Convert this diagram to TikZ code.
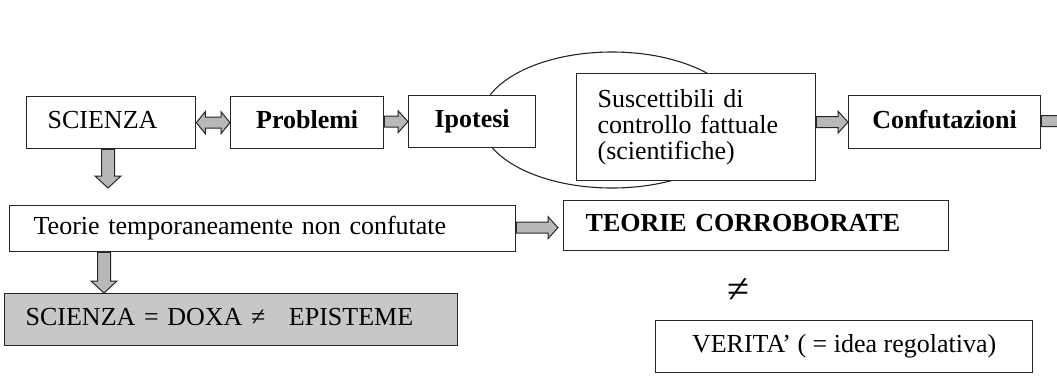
\documentclass[tikz,border=0pt]{standalone}
\usepackage{fontspec}
\setmainfont{Liberation Serif}
\usetikzlibrary{calc}
\newcommand\fs{\fontsize{26}{26}\selectfont}
\tikzset{
  box/.style={draw=black!85, line width=1.3pt, fill=white, inner ysep=0pt, anchor=north west, font=\fs},
  one/.style={text height=18pt, text depth=6pt},
  lbox/.style={box, align=left},
  cbox/.style={box, align=center, inner xsep=0pt},
  barrow/.style={draw=black!85, fill=black!28, line width=1pt, line join=miter},
  oval/.style={draw=black!85, line width=1.1pt}
}
% horizontal block arrow from x of #1 to point #2 (at y of #2)
\newcommand\barrowR[2]{\draw[barrow] let \p1=(#1), \p2=(#2) in
  (\x1,\y2+5.5pt) -- (\x2-10pt,\y2+5.5pt) -- (\x2-10pt,\y2+11pt) -- (\x2,\y2)
  -- (\x2-10pt,\y2-11pt) -- (\x2-10pt,\y2-5.5pt) -- (\x1,\y2-5.5pt) -- cycle;}
% double-headed horizontal block arrow
\newcommand\barrowLR[2]{\draw[barrow] let \p1=(#1), \p2=(#2) in
  (\x1,\y2) -- (\x1+9pt,\y2+11pt) -- (\x1+9pt,\y2+5.5pt) -- (\x2-9pt,\y2+5.5pt)
  -- (\x2-9pt,\y2+11pt) -- (\x2,\y2) -- (\x2-9pt,\y2-11pt) -- (\x2-9pt,\y2-5.5pt)
  -- (\x1+9pt,\y2-5.5pt) -- (\x1+9pt,\y2-11pt) -- cycle;}
% downward block arrow from y of #1 to point #2 (at x of #2)
\newcommand\barrowD[2]{\draw[barrow] let \p1=(#1), \p2=(#2) in
  (\x2-6.5pt,\y1) -- (\x2-6.5pt,\y2+12pt) -- (\x2-13pt,\y2+12pt) -- (\x2,\y2)
  -- (\x2+13pt,\y2+12pt) -- (\x2+6.5pt,\y2+12pt) -- (\x2+6.5pt,\y1) -- cycle;}
\begin{document}
\begin{tikzpicture}[x=1pt,y=-1pt]
\useasboundingbox (0,0) rectangle (1057,376);
% oval behind the boxes
\draw[oval] (612,120) ellipse [x radius=131, y radius=68];
% boxes
\node[lbox, one, inner xsep=21pt, text width=127pt, minimum height=52pt] (sci) at (26,96) {SCIENZA};
\node[cbox, one, minimum width=153pt, minimum height=52pt] (prob) at (230,96) {\bfseries Problemi};
\node[cbox, one, minimum width=127pt, minimum height=52pt] (ipo) at (408,95) {\bfseries Ipotesi};
\node[lbox, inner xsep=21pt, text width=197pt, minimum height=107pt] (sus) at (576,73)
  {Suscettibili di\\controllo fattuale\\(scientifiche)};
\node[cbox, one, minimum width=192pt, minimum height=53pt] (conf) at (848,95) {\bfseries Confutazioni};
\node[lbox, one, inner xsep=24pt, text width=458pt, minimum height=46pt] (teo) at (9,205)
  {Teorie temporaneamente non confutate};
\node[lbox, one, inner xsep=22pt, text width=341pt, minimum height=50pt] (corr) at (563,200)
  {\bfseries TEORIE CORROBORATE};
\node[lbox, one, fill=black!22, inner xsep=21pt, text width=411pt, minimum height=52pt] (doxa) at (4,293)
  {SCIENZA = DOXA ≠\hspace{0.57em} EPISTEME};
\node[cbox, one, minimum width=377pt, minimum height=52pt] (ver) at (655,320)
  {VERITA’ ( = idea regolativa)};
\node[font=\fontsize{40}{40}\selectfont, inner sep=0pt] (neq) at (738,291) {≠};
% free ends
\coordinate (d1) at (108,188);
\coordinate (off) at (1072,121);
% connectors
\barrowLR{sci.east}{prob.west}
\barrowR{prob.east}{ipo.west}
\barrowR{sus.east}{conf.west}
\barrowR{conf.east}{off}
\barrowD{sci.south}{d1}
\barrowD{teo.south}{$(doxa.north west)+(100,0)$}
\barrowR{teo.east}{$(corr.west)+(-5,2)$}
\end{tikzpicture}
\end{document}
